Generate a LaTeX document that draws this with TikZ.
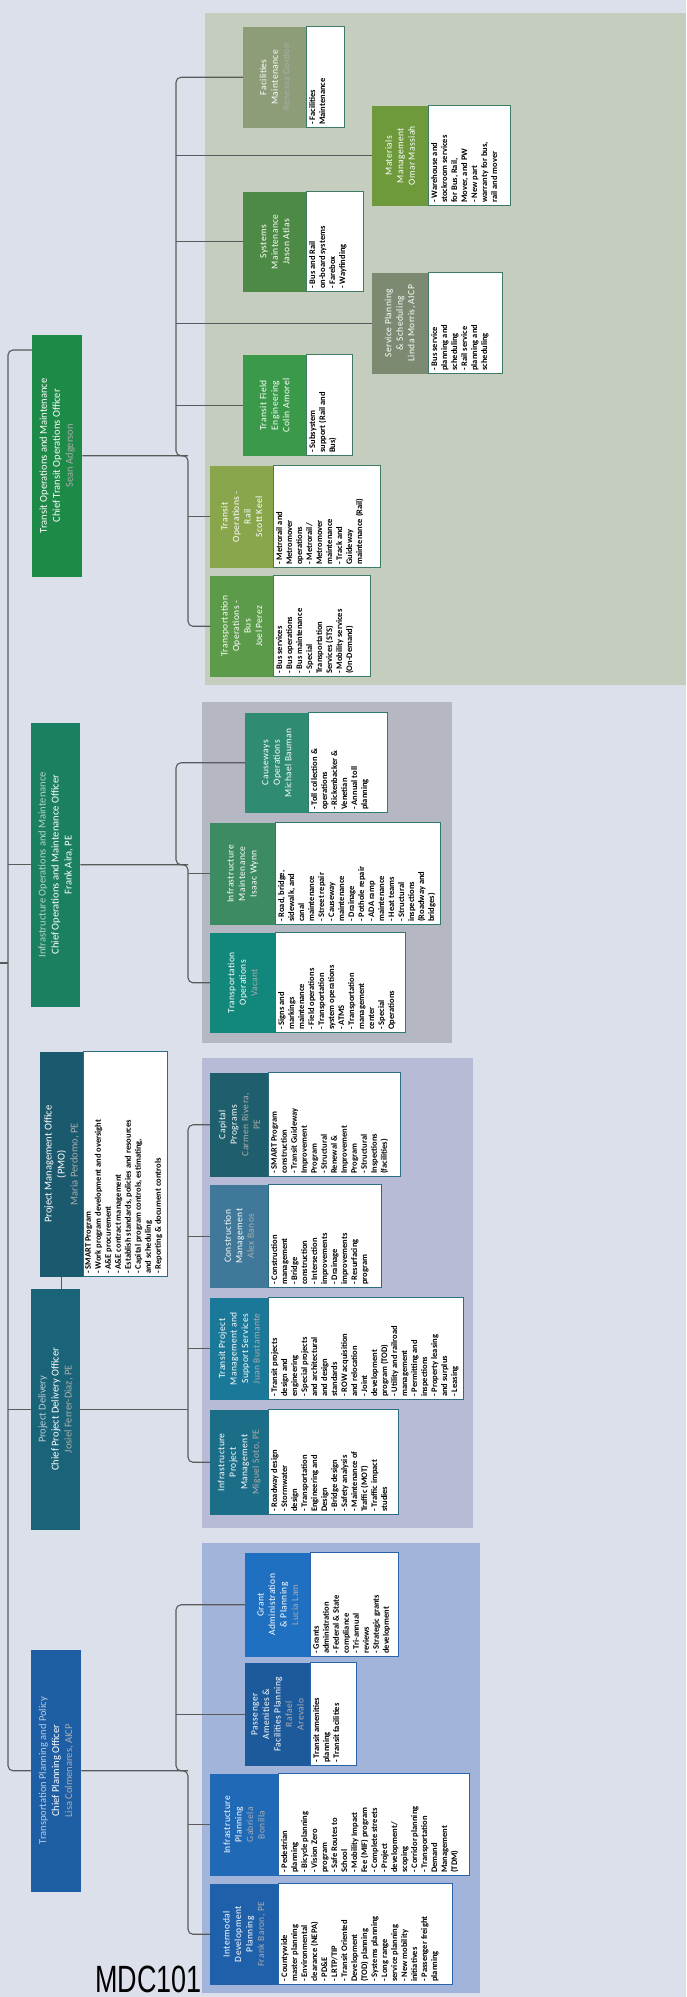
\documentclass[tikz,border=0pt]{standalone}
\usepackage{fontspec}
\setmainfont{Carlito}
\newfontfamily\ttlfont{Carlito}[LetterSpace=4.0]
\newfontfamily\labelfont{Liberation Sans}

% page and panels
\definecolor{pagebg}{HTML}{DCE0EB}
\definecolor{linecol}{HTML}{5A5A5A}
\definecolor{pTransit}{HTML}{C4CDBE}
\definecolor{pInfra}{HTML}{B5B8C3}
\definecolor{pDelivery}{HTML}{B8BBD5}
\definecolor{pPlanning}{HTML}{A3B4DA}
% chief offices
\definecolor{cTC}{HTML}{1E8A47}
\definecolor{cIC}{HTML}{1B7F62}
\definecolor{cPC}{HTML}{1A6479}
\definecolor{cPMO}{HTML}{1B5A6E}
\definecolor{cPL}{HTML}{1E5EA5}
% divisions
\definecolor{cFM}{HTML}{8D9D77}
\definecolor{cMM}{HTML}{6F9A3C}
\definecolor{cSM}{HTML}{4D8A45}
\definecolor{cSP}{HTML}{7D8A72}
\definecolor{cTFE}{HTML}{3B9A4A}
\definecolor{cRail}{HTML}{89A64C}
\definecolor{cBus}{HTML}{5C9B4A}
\definecolor{cCW}{HTML}{2F8C73}
\definecolor{cIM}{HTML}{3D8B63}
\definecolor{cTO}{HTML}{12887C}
\definecolor{cCP}{HTML}{1E5E6D}
\definecolor{cCM}{HTML}{3F7898}
\definecolor{cTPM}{HTML}{1A7899}
\definecolor{cIPM}{HTML}{1C6E88}
\definecolor{cGA}{HTML}{2070C2}
\definecolor{cPA}{HTML}{1D5A9C}
\definecolor{cIP}{HTML}{1F69B6}
\definecolor{cIDP}{HTML}{1F60AA}
% duty box borders
\definecolor{bTransit}{HTML}{3F7A66}
\definecolor{bInfra}{HTML}{2F7A6E}
\definecolor{bDelivery}{HTML}{2B6E84}
\definecolor{bPlanning}{HTML}{2A64A8}

\def\curcol{black}
\def\dutycol{bTransit}
\newcommand\nm[1]{\textcolor{white!68!\curcol}{#1}}

\tikzset{
  conn/.style={draw=linecol, line width=1.1pt, rounded corners=5pt},
  chiefbox/.style={rectangle, inner sep=0pt, text=white, align=center,
    font=\fontsize{10.5}{13}\selectfont},
  unitbox/.style={rectangle, inner sep=0pt, text=white, align=center,
    font=\ttlfont\fontsize{9.5}{11.5}\selectfont},
  dutybox/.style={rectangle, fill=white, inner sep=0pt, line width=0.9pt},
  dutytext/.style={inner sep=0pt, align=left, text=black,
    font=\bfseries\fontsize{8.5}{10}\selectfont},
}

% chief: name, x1, x2, y1, y2, colour, text   (page pixel ranges)
\newcommand\chief[7]{%
  \node[chiefbox, fill=#6, minimum width={#5-#4}, minimum height={#3-#2},
        anchor=north west] (#1) at ({1997-#5},{-#2}) {\def\curcol{#6}#7};}
% division: name, x1, x2, xduty, y1, y2, colour, title, duties
\newcommand\division[9]{%
  \node[unitbox, fill=#7, minimum width={#6-#5}, minimum height={#3-#2},
        anchor=north west] (#1) at ({1997-#6},{-#2}) {\def\curcol{#7}#8};
  \node[dutybox, draw=\dutycol, minimum width={#6-#5}, minimum height={#4-#3},
        anchor=north west] (#1-d) at ({1997-#6},{-#3}) {};
  \node[dutytext, anchor=north west] (#1-t) at ([shift={(3,-3)}]#1-d.north west) {#9};}

\begin{document}
\begin{tikzpicture}[x=1pt,y=1pt]
\useasboundingbox (0,0) rectangle (686,1997);
\fill[pagebg] (0,0) rectangle (686,1997);

\begin{scope}[rotate=90, transform shape]
  % department panels
  \fill[pTransit]  (1312,-205) rectangle (1984,-686);
  \fill[pInfra]    (954,-202)  rectangle (1295,-452);
  \fill[pDelivery] (469,-202)  rectangle (939,-473);
  \fill[pPlanning] (4,-202)    rectangle (454,-480);

  \coordinate (ub) at (0,-176);
  \coordinate (lb) at (0,-188);
  \coordinate (rootR) at (1647,-8);
  \coordinate (feed) at (1034,0);

  % chief officers
  \chief{tc}{32}{82}{335}{577}{cTC}{Transit Operations and Maintenance\\Chief Transit Operations Officer\\\nm{Sean Adgerson}}
  \chief{ic}{31}{80}{723}{1007}{cIC}{\nm{Infrastructure Operations and Maintenance}\\Chief Operations and Maintenance Officer\\Frank Aira, PE}
  \chief{pc}{31}{80}{1289}{1530}{cPC}{\nm{Project Delivery}\\Chief Project Delivery Officer\\\nm{Josiel Ferrer-Diaz, PE}}
  \chief{plc}{31}{81}{1650}{1892}{cPL}{\nm{Transportation Planning and Policy}\\Chief Planning Officer\\\nm{Lisa Colmenares, AICP}}

  % project management office
  \node[chiefbox, fill=cPMO, minimum width=225, minimum height=43, anchor=north west]
    (pmo) at (720,-40) {\def\curcol{cPMO}Project Management Office\\(PMO)\\\nm{Maria Perdomo, PE}};
  \node[dutybox, draw=bDelivery, minimum width=225, minimum height=84, anchor=north west]
    (pmo-d) at (720,-83) {};
  \node[dutytext, anchor=north west] (pmo-t) at ([shift={(3,-2)}]pmo-d.north west)
    {- SMART Program\\- Work program development and oversight\\- A\&E procurement\\- A\&E contract management\\- Establish standards, policies and resources\\- Capital program controls, estimating,\\and scheduling\\- Reporting \& document controls};

  % transit operations and maintenance
  \def\dutycol{bTransit}
  \division{fm}{243}{306}{344}{27}{128}{cFM}{Facilities\\Maintenance\\\nm{Renessa Gordon}}{- Facilities\\Maintenance}
  \division{mm}{372}{428}{510}{106}{206}{cMM}{Materials\\Management\\Omar Massiah}{- Warehouse and\\stockroom services\\for Bus, Rail,\\Mover, and PW\\- New part\\warranty for bus,\\rail and mover}
  \division{sm}{243}{306}{363}{192}{292}{cSM}{Systems\\Maintenance\\Jason Atlas}{- Bus and Rail\\on-board systems\\- Farebox\\- Wayfinding}
  \division{sp}{372}{428}{502}{273}{374}{cSP}{Service Planning\\\& Scheduling\\Linda Morris, AICP}{- Bus service\\planning and\\scheduling\\- Rail service\\planning and\\scheduling}
  \division{tfe}{243}{306}{352}{355}{456}{cTFE}{Transit Field\\Engineering\\Colin Amorel}{- Subsystem\\support (Rail and\\Bus)}
  \division{rail}{210}{273}{380}{466}{568}{cRail}{Transit\\Operations -\\Rail\\Scott Keel}{- Metrorail and\\Metromover\\operations\\- Metrorail/\\Metromover\\maintenance\\- Track and\\Guideway\\maintenance (Rail)}
  \division{bus}{210}{273}{370}{576}{677}{cBus}{Transportation\\Operations -\\Bus\\Joel Perez}{- Bus services\\- Bus operations\\- Bus maintenance\\- Special\\Transportation\\Services (STS)\\- Mobility services\\(On-Demand)}

  % infrastructure operations and maintenance
  \def\dutycol{bInfra}
  \division{cw}{245}{308}{387}{713}{813}{cCW}{Causeways\\Operations\\Michael Bauman}{- Toll collection \&\\operations\\- Rickenbacker \&\\Venetian\\- Annual toll\\planning}
  \division{im}{210}{275}{440}{823}{925}{cIM}{Infrastructure\\Maintenance\\Isaac Wynn}{- Road, bridge,\\sidewalk, and\\canal\\maintenance\\- Street repair\\- Causeway\\maintenance\\- Drainage\\- Pothole repair\\- ADA ramp\\maintenance\\- Heat teams\\- Structural\\inspections\\(Roadway and\\bridges)}
  \division{to}{210}{275}{405}{933}{1033}{cTO}{Transportation\\Operations\\\nm{Vacant}}{- Signs and\\markings\\maintenance\\- Field operations\\- Transportation\\system operations\\- ATMS\\- Transportation\\management\\center\\- Special\\Operations}

  % project delivery
  \def\dutycol{bDelivery}
  \division{cp}{210}{268}{400}{1073}{1177}{cCP}{Capital\\Programs\\\nm{Carmen Rivera,}\\\nm{PE}}{- SMART Program\\construction\\- Transit Guideway\\Improvement\\Program\\- Structural\\Renewal \&\\Improvement\\Program\\- Structural\\Inspections\\(facilities)}
  \division{cm}{210}{268}{381}{1185}{1288}{cCM}{Construction\\Management\\\nm{Alex Banos}}{- Construction\\management\\- Bridge\\construction\\- Intersection\\improvements\\- Drainage\\improvements\\- Resurfacing\\program}
  \division{tpm}{210}{268}{463}{1298}{1400}{cTPM}{Transit Project\\Management and\\Support Services\\\nm{Juan Bustamante}}{- Transit projects\\design and\\engineering\\- Special projects\\and architectural\\and design\\standards\\- ROW acquisition\\and relocation\\- Joint\\development\\program (TOD)\\- Utility and railroad\\management\\- Permitting and\\inspections\\- Property leasing\\and surplus\\- Leasing}
  \division{ipm}{210}{268}{398}{1410}{1515}{cIPM}{Infrastructure\\Project\\Management\\\nm{Miguel Soto, PE}}{- Roadway design\\- Stormwater\\design\\- Transportation\\Engineering and\\Design\\- Bridge design\\- Safety analysis\\- Maintenance of\\Traffic (MOT)\\- Traffic impact\\studies}

  % transportation planning and policy
  \def\dutycol{bPlanning}
  \division{ga}{245}{310}{398}{1553}{1657}{cGA}{Grant\\Administration\\\& Planning\\\nm{Lucia Lam}}{- Grants\\administration\\- Federal \& State\\compliance\\- Tri-annual\\reviews\\- Strategic grants\\development}
  \division{pa}{245}{310}{356}{1663}{1766}{cPA}{Passenger\\Amenities \&\\Facilities Planning\\\nm{Rafael}\\\nm{Arevalo}}{- Transit amenities\\planning\\- Transit facilities}
  \division{ip}{210}{278}{469}{1774}{1876}{cIP}{Infrastructure\\Planning\\\nm{Gabriela}\\\nm{Bonilla}}{- Pedestrian\\planning\\- Bicycle planning\\- Vision Zero\\program\\- Safe Routes to\\School\\- Mobility Impact\\Fee (MIF) program\\- Complete streets\\- Project\\development/\\scoping\\- Corridor planning\\- Transportation\\Demand\\Management\\(TDM)}
  \division{idp}{210}{278}{452}{1884}{1985}{cIDP}{Intermodal\\Development\\Planning\\\nm{Frank Baron, PE}}{- Countywide\\master planning\\- Environmental\\clearance (NEPA)\\- PD\&E\\- LRTP/TIP\\- Transit Oriented\\Development\\(TOD) planning\\- Systems planning\\- Long range\\service planning\\- New mobility\\initiatives\\- Passenger freight\\planning}

  % reporting lines: top level
  \draw[conn] (feed) -- (feed |- rootR);
  \draw[conn] (plc.north) |- (rootR) -- (rootR |- tc.north);
  \draw[conn] (pc.north) -- (pc.north |- rootR);
  \draw[conn] (ic.north) -- (ic.north |- rootR);
  \draw[conn] (pmo.west) -- (pmo.west -| pc.east);

  % transit
  \draw[conn] (tc.south) -- (tc.south |- lb) -| (bus.north);
  \draw[conn] (rail.north) -- (rail.north |- lb);
  \draw[conn] (fm.north) |- (tc.south |- ub) -- (tc.south |- lb);
  \foreach \u in {mm,sm,sp,tfe} \draw[conn] (\u.north) -- (\u.north |- ub);

  % infrastructure
  \draw[conn] (ic.south) -- (ic.south |- lb) -| (to.north);
  \draw[conn] (cw.north) |- (ic.south |- ub) -- (ic.south |- lb);
  \draw[conn] (im.north) -- (im.north |- lb);

  % project delivery
  \draw[conn] (cp.north) |- (ipm.north |- lb) -- (ipm.north);
  \draw[conn] (pc.south) -- (pc.south |- lb);
  \foreach \u in {cm,tpm} \draw[conn] (\u.north) -- (\u.north |- lb);

  % planning
  \draw[conn] (plc.south) -- (plc.south |- lb) -| (idp.north);
  \draw[conn] (ga.north) |- (plc.south |- ub) -- (plc.south |- lb);
  \draw[conn] (pa.north) -- (pa.north |- ub);
  \draw[conn] (ip.north) -- (ip.north |- lb);
\end{scope}

\node[anchor=south west, inner sep=0pt] (code) at (95,4)
  {\scalebox{0.71}[1]{\labelfont\fontsize{38}{38}\selectfont MDC101}};
\end{tikzpicture}
\end{document}
